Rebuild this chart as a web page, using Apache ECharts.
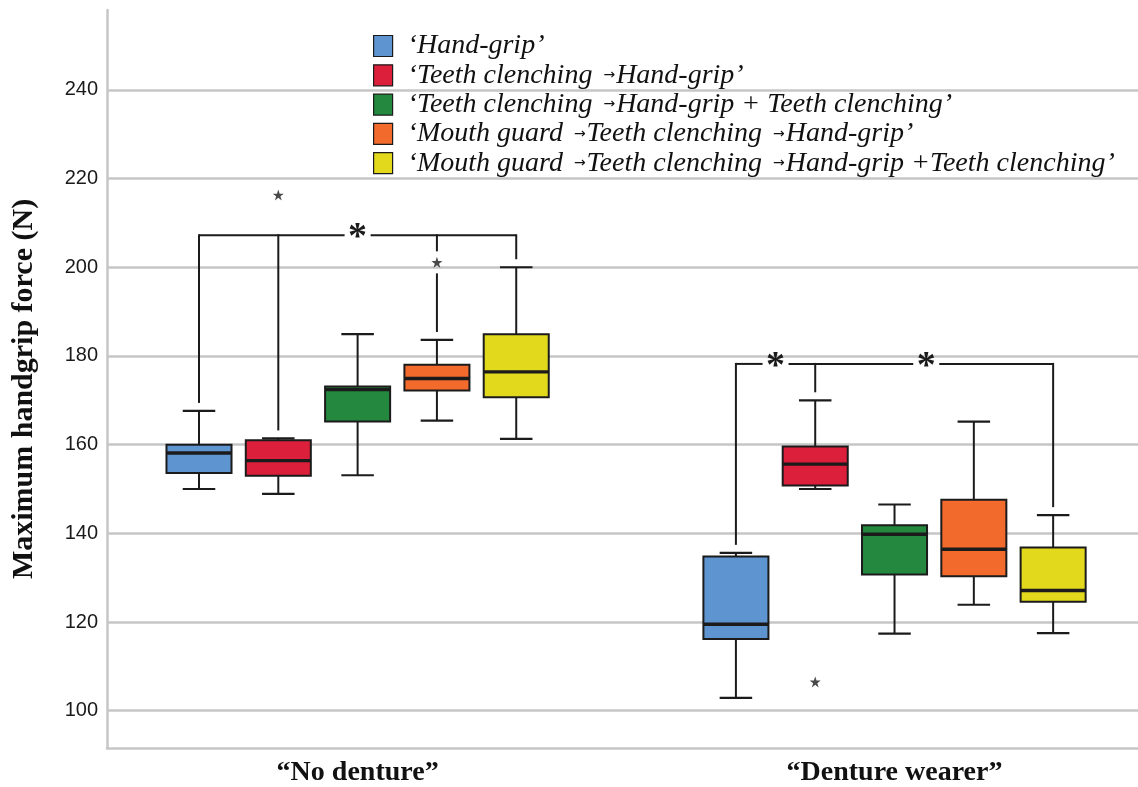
<!DOCTYPE html>
<html>
<head>
<meta charset="utf-8">
<script src="https://cdn.jsdelivr.net/npm/echarts@6/dist/echarts.min.js"></script>
<style>
  html, body { margin: 0; padding: 0; background: #ffffff; }
  #chart { width: 1138px; height: 787px; }
</style>
</head>
<body>
<div id="chart"></div>
<script>
// ---- data -------------------------------------------------------------
const groups = ['“No denture”', '“Denture wearer”'];
const conditions = [
  '‘Hand-grip’',
  '‘Teeth clenching→Hand-grip’',
  '‘Teeth clenching→Hand-grip + Teeth clenching’',
  '‘Mouth guard→Teeth clenching→Hand-grip’',
  '‘Mouth guard→Teeth clenching→Hand-grip +Teeth clenching’'
];
const colors = ['#5e95d0', '#dc1f3a', '#24883f', '#f26a2c', '#e2d91c'];

// [min, Q1, median, Q3, max] for each group (No denture, Denture wearer)
const handGrip            = [[150.0, 153.6, 158.1, 160.0, 167.6], [102.9, 116.2, 119.5, 134.8, 135.6]];
const teethHand           = [[148.9, 153.0, 156.4, 161.0, 161.4], [150.0, 150.8, 155.6, 159.6, 170.0]];
const teethHandTeeth      = [[153.1, 165.2, 172.4, 173.1, 184.9], [117.4, 130.7, 139.8, 141.8, 146.5]];
const guardTeethHand      = [[165.4, 172.2, 174.9, 178.0, 183.6], [123.9, 130.3, 136.4, 147.6, 165.2]];
const guardTeethHandTeeth = [[161.3, 170.7, 176.4, 184.9, 200.0], [117.5, 124.6, 127.1, 136.8, 144.1]];
const boxStats = [handGrip, teethHand, teethHandTeeth, guardTeethHand, guardTeethHandTeeth];

// outliers: [condition index, group index, value]
const outliers = [[1, 0, 216.3], [3, 0, 201.1], [1, 1, 106.5]];

// significance brackets, one per group
const bracketLevels = [207.2, 178.2];
const bracketSpans  = [[0, 4], [0, 4]];
const bracketLegs   = [[0, 1, 3, 4], [0, 1, 4]];
const bracketStars  = [[2], [0.5, 2.4]];

const yTicks = [100, 120, 140, 160, 180, 200, 220, 240];

// ---- layout helpers ---------------------------------------------------
const GROUP_POS = [3.16, 9.93];   // group centres on the hidden value x axis
const SLOT = 1;                   // distance between neighbouring boxes
const BOX_W = 0.82;               // box width in x-axis units
const INK = '#1b1b1b';

function slotX(g, s) { return GROUP_POS[g] + (s - 2) * SLOT; }

function boxRenderer(ci) {
  return function (params, api) {
    const g = api.value(0);
    const xc = slotX(g, ci);
    const pMin = api.coord([xc, api.value(1)]);
    const pQ1  = api.coord([xc, api.value(2)]);
    const pMed = api.coord([xc, api.value(3)]);
    const pQ3  = api.coord([xc, api.value(4)]);
    const pMax = api.coord([xc, api.value(5)]);
    const half = api.size([BOX_W, 0])[0] / 2;
    const cap = half / 2;
    const x = pMed[0];
    const line = (x1, y1, x2, y2, w) => ({
      type: 'line', shape: { x1, y1, x2, y2 },
      style: { stroke: INK, lineWidth: w }
    });
    return {
      type: 'group',
      children: [
        line(x, pMax[1], x, pQ3[1], 2),
        line(x, pQ1[1], x, pMin[1], 2),
        {
          type: 'rect',
          shape: { x: x - half, y: pQ3[1], width: half * 2, height: pQ1[1] - pQ3[1] },
          style: { fill: colors[ci], stroke: INK, lineWidth: 2 }
        },
        line(x - cap, pMax[1], x + cap, pMax[1], 2.2),
        line(x - cap, pMin[1], x + cap, pMin[1], 2.2),
        line(x - half, pMed[1], x + half, pMed[1], 3.4)
      ]
    };
  };
}

function bracketRenderer(params, api) {
  const g = api.value(0);
  const level = api.value(1);
  const yL = api.coord([0, level])[1];
  const px = s => api.coord([slotX(g, s), level])[0];
  const children = [];
  const seg = (x1, y1, x2, y2) => children.push({
    type: 'line', shape: { x1, y1, x2, y2 },
    style: { stroke: INK, lineWidth: 2 }
  });
  // horizontal bar, broken where each asterisk sits
  const starXs = bracketStars[g].map(px).sort((a, b) => a - b);
  let cur = px(bracketSpans[g][0]);
  starXs.forEach(sx => { seg(cur, yL, sx - 13, yL); cur = sx + 13; });
  seg(cur, yL, px(bracketSpans[g][1]), yL);
  // legs down towards each whisker cap
  bracketLegs[g].forEach(c => {
    const lx = px(c);
    const yEnd = api.coord([0, boxStats[c][g][4]])[1] - 8;
    const cuts = outliers
      .filter(o => o[0] === c && o[1] === g)
      .map(o => api.coord([0, o[2]])[1])
      .filter(y => y > yL && y < yEnd)
      .sort((a, b) => a - b);
    let top = yL - 1;
    cuts.forEach(cy => { seg(lx, top, lx, cy - 11); top = cy + 11; });
    seg(lx, top, lx, yEnd);
  });
  // asterisks
  starXs.forEach(sx => children.push({
    type: 'text', x: sx, y: yL + 3,
    style: {
      text: '*', font: 'bold 38px "Liberation Serif"', fill: INK,
      align: 'center', verticalAlign: 'middle'
    }
  }));
  return { type: 'group', children };
}

// ---- series -----------------------------------------------------------
const series = conditions.map((name, ci) => ({
  name,
  type: 'custom',
  itemStyle: { color: colors[ci] },
  renderItem: boxRenderer(ci),
  encode: { x: 0, y: [1, 2, 3, 4, 5] },
  data: boxStats[ci].map((s, g) => [g].concat(s)),
  z: 3
}));

series.push({
  name: 'outliers',
  type: 'scatter',
  symbol: 'path://M50,0 L61.8,35.1 L98.9,35.1 L68.8,56.8 L80.2,91.9 L50,70.2 L19.8,91.9 L31.2,56.8 L1.1,35.1 L38.2,35.1 Z',
  symbolSize: 11,
  itemStyle: { color: INK },
  silent: true,
  z: 5,
  data: outliers.map(o => [slotX(o[1], o[0]), o[2]])
});

series.push({
  name: 'significance',
  type: 'custom',
  renderItem: bracketRenderer,
  silent: true,
  z: 4,
  encode: { x: 0, y: 1 },
  data: bracketLevels.map((lv, g) => [g, lv])
});

const option = {
  backgroundColor: '#ffffff',
  animation: false,
  grid: { left: 107, right: 0, top: 10, bottom: 39, containLabel: false },
  legend: {
    data: conditions,
    orient: 'vertical',
    left: 368,
    top: 27,
    icon: 'rect',
    itemWidth: 19,
    itemHeight: 21,
    itemGap: 1.3,
    itemStyle: { borderColor: INK, borderWidth: 1.2 },
    formatter: n => n.replace(/→/g, '{a|→}'),
    textStyle: {
      fontFamily: '"Liberation Serif"',
      fontStyle: 'italic',
      fontSize: 28,
      lineHeight: 28,
      color: '#111111',
      padding: [0, 0, 0, 10],
      rich: {
        a: {
          fontSize: 14, fontStyle: 'normal', fontFamily: '"DejaVu Sans"',
          color: '#111111', lineHeight: 28, padding: [0, 1, 0, 11]
        }
      }
    },
    selectedMode: false
  },
  xAxis: {
    type: 'value',
    min: 0,
    max: 13,
    axisLine: { show: true, onZero: false, lineStyle: { color: '#c6c6c6', width: 2.5 } },
    axisTick: { show: false },
    splitLine: { show: false },
    axisLabel: {
      customValues: GROUP_POS,
      formatter: v => groups[GROUP_POS.indexOf(v)] || '',
      fontFamily: '"Liberation Serif"',
      fontWeight: 'bold',
      fontSize: 28,
      color: '#111111',
      margin: 11
    }
  },
  yAxis: {
    type: 'value',
    min: 91.6,
    max: 258,
    name: 'Maximum handgrip force (N)',
    nameLocation: 'middle',
    nameGap: 68,
    nameTextStyle: {
      fontFamily: '"Liberation Serif"',
      fontWeight: 'bold',
      fontSize: 30,
      color: '#111111',
      padding: [0, 20, 0, 0]
    },
    axisLine: { show: true, onZero: false, lineStyle: { color: '#c6c6c6', width: 2.5 } },
    axisTick: { show: false, customValues: yTicks },
    axisLabel: {
      customValues: yTicks,
      fontFamily: '"Liberation Sans"',
      fontSize: 20,
      color: '#1a1a1a',
      margin: 9
    },
    splitLine: { show: true, lineStyle: { color: '#c6c6c6', width: 2.5 } }
  },
  series
};

const chart = echarts.init(document.getElementById('chart'), null, { renderer: 'canvas' });
chart.setOption(option);
</script>
</body>
</html>
